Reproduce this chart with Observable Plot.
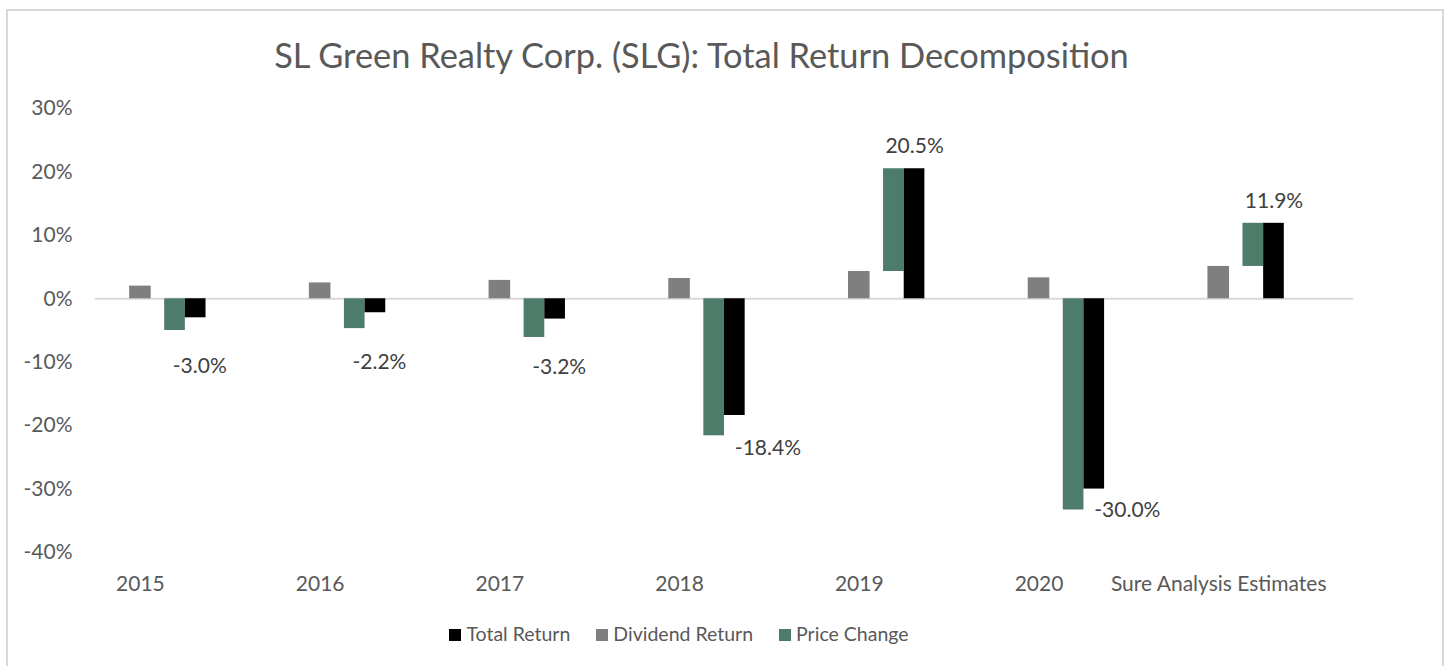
<!DOCTYPE html>
<html>
<head>
<meta charset="utf-8">
<script src="https://cdn.jsdelivr.net/npm/d3@7"></script>
<script src="https://cdn.jsdelivr.net/npm/@observablehq/plot@0.6"></script>
<style>
  html, body { margin: 0; padding: 0; background: #fff; overflow: hidden; }
  body { width: 1450px; height: 666px; position: relative; font-family: Lato, "Open Sans", sans-serif; }
  #frame { position: absolute; left: 6px; top: 9px; width: 1438px; height: 700px; border: 2px solid #d9d9d9; box-sizing: border-box; }
  #title { position: absolute; left: 0; width: 1403px; top: 34px; text-align: center; font-size: 34.4px; color: #595959; white-space: nowrap; }
  #chart { position: absolute; left: 0; top: 0; }
  #legend { position: absolute; left: 0; width: 1358px; top: 622px; display: flex; justify-content: center; font-size: 19.5px; color: #595959; }
  .item { display: flex; align-items: center; margin: 0 13px; }
  .sw { width: 12px; height: 12px; margin-right: 5px; margin-top: 2px; }
</style>
</head>
<body>
<div id="frame"></div>
<div id="title">SL Green Realty Corp. (SLG): Total Return Decomposition</div>
<div id="chart"></div>
<div id="legend"></div>
<script>
const categories = ["2015", "2016", "2017", "2018", "2019", "2020", "Sure Analysis Estimates"];
const dividendReturn = [2.0, 2.5, 2.9, 3.2, 4.3, 3.3, 5.1];
const priceChange = [-5.0, -4.7, -6.1, -21.6, 16.2, -33.3, 6.8];
const totalReturn = [-3.0, -2.2, -3.2, -18.4, 20.5, -30.0, 11.9];
const yTicks = [-40, -30, -20, -10, 0, 10, 20, 30];

const seriesNames = ["Total Return", "Dividend Return", "Price Change"];
const seriesColors = { "Total Return": "#000000", "Dividend Return": "#7f7f7f", "Price Change": "#4e7c6b" };
// slot of each series within a category band (fraction of band)
const slot = { "Dividend Return": [0.19, 0.31], "Price Change": [0.385, 0.5], "Total Return": [0.5, 0.615] };

const rows = [];
categories.forEach((c, i) => {
  rows.push({ i, series: "Dividend Return", y1: 0, y2: dividendReturn[i] });
  const base = priceChange[i] > 0 ? dividendReturn[i] : 0;
  rows.push({ i, series: "Price Change", y1: base, y2: base + priceChange[i] });
  rows.push({ i, series: "Total Return", y1: 0, y2: totalReturn[i] });
});
const labels = categories.map((c, i) => ({ i, v: totalReturn[i] }));

const chart = Plot.plot({
  width: 1450,
  height: 600,
  marginLeft: 95,
  marginRight: 97,
  marginTop: 108,
  marginBottom: 48,
  style: { fontFamily: "Lato, 'Open Sans', sans-serif", fontSize: "21px", color: "#595959", background: "transparent" },
  x: { domain: [0, categories.length], axis: null },
  y: { domain: [-40, 30], axis: null },
  marks: [
    Plot.ruleY([0], { stroke: "#d9d9d9", strokeWidth: 2 }),
    Plot.rectY(rows, {
      x1: d => d.i + slot[d.series][0],
      x2: d => d.i + slot[d.series][1],
      y1: "y1", y2: "y2",
      fill: d => seriesColors[d.series]
    }),
    Plot.axisY({ ticks: yTicks, tickSize: 0, tickPadding: 23, tickFormat: d => d + "%" }),
    Plot.axisX({ ticks: categories.map((c, i) => i + 0.25), tickSize: 0, tickPadding: 24,
      tickFormat: v => categories[Math.round(v - 0.25)] }),
    Plot.text(labels.filter(d => d.v >= 0), {
      x: d => d.i + 0.5575, y: "v", dy: -22, text: d => d.v.toFixed(1) + "%",
      fill: "#404040", fontSize: 21
    }),
    Plot.text(labels.filter(d => d.v < 0 && d.v > -10), {
      x: d => d.i + 0.58, y: d => d.v * 0.84 - 8.1, text: d => d.v.toFixed(1) + "%",
      fill: "#404040", fontSize: 21
    }),
    Plot.text(labels.filter(d => d.v <= -10), {
      x: d => d.i + 0.5575, y: d => d.v * 0.84 - 8.1, text: d => d.v.toFixed(1) + "%",
      textAnchor: "start", fill: "#404040", fontSize: 21
    })
  ]
});
document.getElementById("chart").appendChild(chart);

const legend = document.getElementById("legend");
seriesNames.forEach(name => {
  const item = document.createElement("div");
  item.className = "item";
  const sw = document.createElement("div");
  sw.className = "sw";
  sw.style.background = seriesColors[name];
  const t = document.createElement("span");
  t.textContent = name;
  item.appendChild(sw);
  item.appendChild(t);
  legend.appendChild(item);
});
</script>
</body>
</html>
